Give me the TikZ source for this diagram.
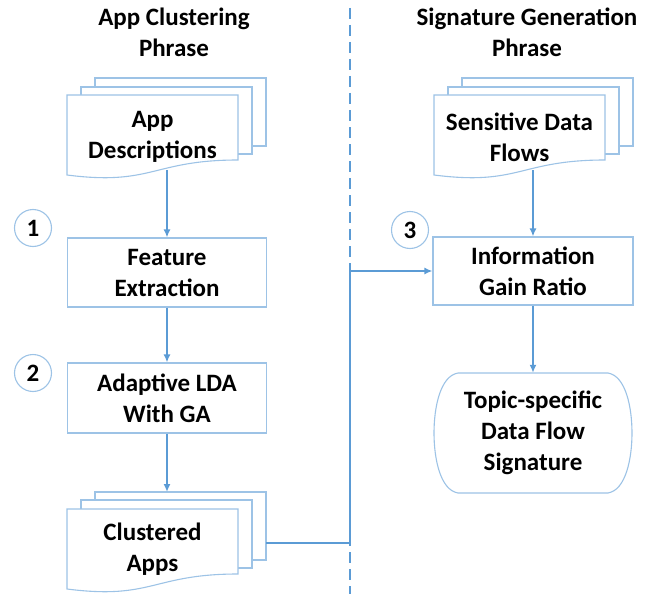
\documentclass[tikz,border=0pt]{standalone}
\usepackage{fontspec}
\setmainfont{Carlito}
\usetikzlibrary{arrows.meta}
\definecolor{flowcolor0001}{RGB}{91,155,213}
\definecolor{flowcolor0002}{RGB}{157,195,230}
\definecolor{flowcolor0003}{RGB}{255,255,255}
\definecolor{flowcolor0004}{RGB}{0,0,0}

\begin{document}
\begin{tikzpicture}[x=1pt,y=-1pt
,fstyle1/.style={draw=flowcolor0002,fill=flowcolor0003,line width=1.1pt}
,fstyle2/.style={color=flowcolor0001,line width=1.8pt,-{Latex[length=8pt,width=7pt]}}
,fstyle3/.style={color=flowcolor0001,line width=1.8pt,dash pattern=on 11pt off 6pt}
,fstyle4/.style={text=flowcolor0004,align=center,font=\fontsize{25}{31}\selectfont\bfseries}
,fstyle5/.style={fstyle1,fstyle4,rectangle,inner sep=0pt}
]
\useasboundingbox (0,0) rectangle (659,594);
% titles and the dashed divider
\node[fstyle4] (lefttitle) at (174,32) {App Clustering\\Phrase};
\node[fstyle4] (righttitle) at (527,32) {Signature Generation\\Phrase};
\draw[fstyle3] (350,8) -- (350,594);
% app descriptions
\draw[fstyle1] (95,78) rectangle (266,146);
\draw[fstyle1] (81,87) rectangle (252,154);
\draw[fstyle1] (67,95) -- (238,95) -- (238,160) .. controls (152.5,160) and (152.5,186) .. (67,175) -- cycle;
\node[fstyle4,minimum width=171pt,minimum height=66pt] (appdesc) at (152.5,137) {App\\Descriptions};
% feature extraction, adaptive lda
\node[fstyle5,minimum width=199pt,minimum height=69pt] (featext) at (167,272.5) {Feature\\Extraction};
\node[fstyle5,minimum width=199pt,minimum height=70pt] (adaptlda) at (167,398) {Adaptive LDA\\With GA};
% clustered apps
\draw[fstyle1] (95,492) rectangle (266,560);
\draw[fstyle1] (81,500) rectangle (252,568);
\draw[fstyle1] (67,509) -- (238,509) -- (238,574) .. controls (152.5,574) and (152.5,600) .. (67,589) -- cycle;
\node[fstyle4,minimum width=171pt,minimum height=66pt] (clustapps) at (152.5,549) {Clustered\\Apps};
\coordinate (clusttop) at (167,492);
\coordinate (clustout) at (266,543);
% sensitive data flows
\draw[fstyle1] (462,78) rectangle (633,146);
\draw[fstyle1] (448,87) rectangle (619,154);
\draw[fstyle1] (434,95) -- (605,95) -- (605,160) .. controls (519.5,160) and (519.5,186) .. (434,175) -- cycle;
\node[fstyle4,minimum width=171pt,minimum height=66pt] (sensflows) at (519.5,137) {Sensitive Data\\Flows};
% information gain ratio, signature
\node[fstyle5,minimum width=200pt,minimum height=68pt] (infogain) at (533,271) {Information\\Gain Ratio};
\draw[fstyle1] (458,373) -- (608,373) .. controls (626,376) and (632,408) .. (632,433) .. controls (632,458) and (626,490) .. (608,493) -- (458,493) .. controls (440,490) and (434,458) .. (434,433) .. controls (434,408) and (440,376) .. (458,373) -- cycle;
\node[fstyle4,minimum width=198pt,minimum height=120pt] (topicsig) at (533,433) {Topic-specific\\Data Flow\\Signature};
% step numbers
\node[fstyle1,fstyle4,circle,inner sep=0pt,minimum size=37pt] (stepone) at (33,228) {1};
\node[fstyle1,fstyle4,circle,inner sep=0pt,minimum size=37pt] (steptwo) at (33,373) {2};
\node[fstyle1,fstyle4,circle,inner sep=0pt,minimum size=37pt] (stepthree) at (410,230) {3};
% connectors
\draw[fstyle2] (appdesc.south -| featext.north) -- (featext);
\draw[fstyle2] (featext) -- (adaptlda);
\draw[fstyle2] (adaptlda) -- (clusttop);
\draw[fstyle2] (sensflows.south -| infogain.north) -- (infogain);
\draw[fstyle2] (infogain) -- (topicsig);
\draw[fstyle2] (clustout) -- ++(84,0) |- (infogain.west);
\end{tikzpicture}
\end{document}
